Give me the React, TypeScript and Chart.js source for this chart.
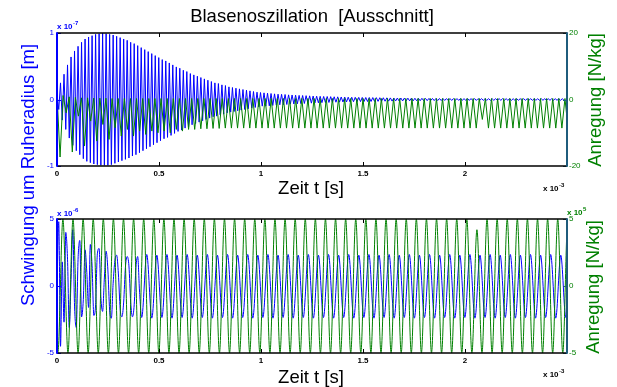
import React, { useEffect, useRef } from "react";
import { Chart, registerables } from "chart.js";

Chart.register(...registerables);

// ---------------- tick data ----------------
const xTickValues = [0, 0.5, 1, 1.5, 2]; // units of 1e-3 s
const topLeftTicks = [-1, 0, 1]; // units of 1e-7 m
const topRightTicks = [-20, 0, 20]; // N/kg
const botLeftTicks = [-5, 0, 5]; // units of 1e-6 m
const botRightTicks = [-5, 0, 5]; // units of 1e5 N/kg

// ---------------- top subplot ----------------
// bubble radius oscillation: successive maxima / minima (units 1e-7 m)
const topBlueStart = 0; // ms
const topBlueStep = 0.0086; // ms between a maximum and the next minimum
const topBluePeaks = [
  0.08, 0.25, 0.38, 0.52, 0.64, 0.73, 0.8, 0.86, 0.91, 0.94,
  0.96, 0.98, 0.99, 1.0, 0.99, 0.98, 0.97, 0.95, 0.93, 0.91,
  0.89, 0.86, 0.84, 0.81, 0.78, 0.75, 0.72, 0.69, 0.66, 0.63,
  0.6, 0.58, 0.55, 0.52, 0.49, 0.47, 0.44, 0.42, 0.39, 0.37,
  0.35, 0.33, 0.31, 0.29, 0.27, 0.25, 0.24, 0.22, 0.21, 0.19,
  0.18, 0.17, 0.16, 0.15, 0.14, 0.13, 0.12, 0.11, 0.105, 0.1,
  0.095, 0.09, 0.085, 0.08, 0.078, 0.075, 0.07, 0.068, 0.065, 0.062,
  0.06, 0.058, 0.055, 0.052, 0.05, 0.048, 0.046, 0.045, 0.043, 0.041,
  0.04, 0.038, 0.037, 0.035, 0.034, 0.033, 0.032, 0.031, 0.03, 0.03,
  0.029, 0.028, 0.027, 0.026, 0.025, 0.024, 0.023, 0.022, 0.022, 0.021,
  0.02, 0.02, 0.019, 0.018, 0.018, 0.017, 0.016, 0.016, 0.015, 0.015,
  0.014, 0.014, 0.014, 0.014, 0.014, 0.014, 0.014, 0.014, 0.014, 0.014,
  0.013, 0.013, 0.013, 0.013, 0.013, 0.013, 0.013, 0.013, 0.013, 0.013,
  0.012, 0.012, 0.012, 0.012, 0.012, 0.012, 0.012, 0.012, 0.012, 0.012,
  0.012, 0.012, 0.012, 0.012, 0.012,
];
const topBlueTroughs = [
  -0.15, -0.31, -0.45, -0.58, -0.69, -0.77, -0.83, -0.89, -0.93, -0.95,
  -0.97, -0.98, -0.99, -0.99, -0.99, -0.98, -0.96, -0.94, -0.92, -0.9,
  -0.88, -0.85, -0.83, -0.8, -0.77, -0.74, -0.71, -0.68, -0.65, -0.62,
  -0.59, -0.57, -0.54, -0.51, -0.48, -0.46, -0.43, -0.41, -0.38, -0.36,
  -0.34, -0.32, -0.3, -0.28, -0.26, -0.25, -0.23, -0.22, -0.2, -0.19,
  -0.18, -0.17, -0.16, -0.15, -0.14, -0.13, -0.12, -0.11, -0.1, -0.1,
  -0.095, -0.09, -0.085, -0.08, -0.078, -0.075, -0.07, -0.068, -0.065, -0.062,
  -0.06, -0.058, -0.055, -0.052, -0.05, -0.048, -0.046, -0.045, -0.043, -0.041,
  -0.04, -0.038, -0.037, -0.035, -0.034, -0.033, -0.032, -0.031, -0.03, -0.03,
  -0.029, -0.028, -0.027, -0.026, -0.025, -0.024, -0.023, -0.022, -0.022, -0.021,
  -0.02, -0.02, -0.019, -0.018, -0.018, -0.017, -0.016, -0.016, -0.015, -0.015,
  -0.014, -0.014, -0.014, -0.014, -0.014, -0.014, -0.014, -0.014, -0.014, -0.014,
  -0.013, -0.013, -0.013, -0.013, -0.013, -0.013, -0.013, -0.013, -0.013, -0.013,
  -0.012, -0.012, -0.012, -0.012, -0.012, -0.012, -0.012, -0.012, -0.012, -0.012,
  -0.012, -0.012, -0.012, -0.012, -0.012,
];

// excitation (N/kg): successive maxima / minima
const topGreenStart = 0;
const topGreenStep = 0.015;
const topGreenPeaks = [
  1.5, 1.2, 0.8, 0.6, 0.5, 0.5, 0.4, 0.4, 0.4, 0.3,
  0.3, 0.3, 0.3, 0.3, 0.3, 0.3, 0.3, 0.3, 0.3, 0.3,
  0.3, 0.3, 0.3, 0.3, 0.3, 0.3, 0.3, 0.3, 0.3, 0.3,
  0.3, 0.3, 0.3, 0.3, 0.3, 0.3, 0.3, 0.3, 0.3, 0.3,
  0.3, 0.3, 0.3, 0.3, 0.3, 0.3, 0.3, 0.3, 0.3, 0.3,
  0.3, 0.3, 0.3, 0.3, 0.3, 0.3, 0.3, 0.3, 0.3, 0.3,
  0.3, 0.3, 0.3, 0.3, 0.3, 0.3, 0.3, 0.3, 0.3, 0.3,
  0.3, 0.3, 0.3, 0.3, 0.3, 0.3, 0.3, 0.3, 0.3, 0.3,
  0.3, 0.3, 0.3, 0.3,
];
const topGreenTroughs = [
  -17.3, -4.0, -15.8, -5.0, -14.0, -6.5, -12.5, -7.5, -12.0, -8.5,
  -11.0, -9.0, -11.0, -9.5, -10.5, -9.5, -10.0, -9.5, -10.0, -9.0,
  -9.5, -9.0, -9.0, -8.8, -8.8, -8.7, -8.7, -8.6, -8.6, -8.6,
  -8.6, -8.6, -8.6, -8.6, -8.6, -8.6, -8.6, -8.6, -8.6, -8.6,
  -8.6, -8.6, -8.6, -8.6, -8.6, -8.6, -8.6, -8.6, -8.6, -8.6,
  -8.6, -8.6, -8.6, -8.6, -8.6, -8.6, -8.6, -8.6, -8.6, -8.6,
  -8.6, -8.6, -8.6, -8.6, -8.6, -8.6, -8.6, -8.6, -8.6, -6.0,
  -8.6, -8.6, -8.6, -8.6, -8.6, -8.6, -8.6, -8.6, -8.6, -8.6,
  -8.6, -8.6, -8.6, -8.6,
];

// ---------------- bottom subplot ----------------
// radius oscillation: initial transient samples (units 1e-6 m)
const botBlueEarlyStep = 0.0086;
const botBlueEarly = [
  0, 4.8, -4.5, 1.8, -2.7, 4.0, 2.0, -3.1, 0.5, 4.2,
  -1.5, -3.1, 2.0, 3.4, -2.3, -1.0, 2.7, 1.0, -1.6, 3.1,
  1.5, -2.2, -1.4, 2.4, 2.8, -0.8, -1.9, 0.6, 2.6, 1.2,
  -1.8, -2.4, 0.2, 1.9, 2.3, 0.9, -1.7, -2.3, -1.2, 1.4,
  2.2, 1.5, -1.2, -2.3, -1.4, 1.4, 2.2, -0.3,
];
// steady state: alternating minima / maxima
const botBlueStart = 0.41525;
const botBlueStep = 0.02475;
const botBlueTroughs = [
  -2.35, -2.4, -2.35, -2.4, -2.35, -2.4, -2.35, -2.4, -2.35, -2.4,
  -2.35, -2.4, -2.35, -2.4, -2.35, -2.4, -2.35, -2.4, -2.35, -2.4,
  -2.35, -2.4, -2.35, -2.4, -2.35, -2.4, -2.35, -2.4, -2.35, -2.4,
  -2.35, -2.4, -2.35, -2.4, -2.35, -2.4, -2.35, -2.4, -2.35, -2.4,
  -2.35, -2.4, -2.35,
];
const botBluePeaks = [
  2.35, 2.3, 2.35, 2.3, 2.35, 2.3, 2.35, 2.3, 2.35, 2.3,
  2.35, 2.3, 2.35, 2.3, 2.35, 2.3, 2.35, 2.3, 2.35, 2.3,
  2.35, 2.3, 2.35, 2.3, 2.35, 2.3, 2.35, 2.3, 2.35, 2.3,
  2.35, 2.3, 2.35, 2.3, 2.35, 2.3, 2.35, 2.3, 2.35, 2.3,
  2.35, 2.3, 2.35,
];
// excitation (units 1e5 N/kg)
const botGreenStart = -0.0205;
const botGreenStep = 0.02475;
const botGreenPeaks = [
  5, 5, 5, 5, 5, 5, 5, 5, 5, 5,
  5, 5, 5, 5, 5, 5, 5, 5, 5, 5,
  5, 5, 5, 5, 5, 5, 5, 5, 5, 5,
  5, 5, 5, 5, 5, 5, 5, 5, 5, 5,
  5, 5, 4.2, 5, 5, 5, 5, 5, 5, 5,
  5, 5,
];
const botGreenTroughs = [
  -5, -5, -5, -5, -5, -5, -5, -5, -5, -5,
  -5, -5, -5, -5, -5, -5, -5, -5, -5, -5,
  -5, -5, -5, -5, -5, -5, -5, -5, -5, -5,
  -5, -5, -5, -5, -5, -5, -5, -5, -5, -5,
  -5, -5, -5, -5, -5, -5, -5, -5, -5, -5,
  -5, -5,
];

// ---------------- helpers ----------------
const FONT = '"Liberation Sans", Arial, Helvetica, sans-serif';
const BLUE = "#0000ff";
const GREEN = "#008000";
const TEAL = "#1f5c7c";
const W = 617;
const H = 387;

type Pt = { x: number; y: number };

function alternate(start: number, step: number, first: number[], second: number[]): Pt[] {
  const pts: Pt[] = [];
  const n = Math.max(first.length, second.length);
  for (let i = 0; i < n; i++) {
    if (i < first.length) pts.push({ x: start + 2 * i * step, y: first[i] });
    if (i < second.length) pts.push({ x: start + (2 * i + 1) * step, y: second[i] });
  }
  return pts;
}

function sampled(start: number, step: number, values: number[]): Pt[] {
  return values.map((v, i) => ({ x: start + i * step, y: v }));
}

function text(
  ctx: CanvasRenderingContext2D,
  s: string,
  x: number,
  y: number,
  font: string,
  color: string,
  align: CanvasTextAlign = "center",
  rotate = 0
) {
  ctx.save();
  ctx.font = font;
  ctx.fillStyle = color;
  ctx.textAlign = align;
  ctx.textBaseline = "middle";
  ctx.translate(x, y);
  if (rotate) ctx.rotate(rotate);
  ctx.fillText(s, 0, 0);
  ctx.restore();
}

function expLabel(ctx: CanvasRenderingContext2D, base: string, exp: string, x: number, y: number, color: string) {
  ctx.save();
  ctx.fillStyle = color;
  ctx.textAlign = "left";
  ctx.textBaseline = "middle";
  ctx.font = `bold 8px ${FONT}`;
  ctx.fillText(base, x, y);
  const w = ctx.measureText(base).width;
  ctx.font = `bold 6px ${FONT}`;
  ctx.fillText(exp, x + w + 0.5, y - 4);
  ctx.restore();
}

function drawFrame(chart: any, yl: number[], yr: number[]) {
  const ctx: CanvasRenderingContext2D = chart.ctx;
  const a = chart.chartArea;
  const xs = chart.scales.x;
  const sl = chart.scales.yL;
  const sr = chart.scales.yR;
  ctx.save();
  // inward tick marks
  ctx.lineWidth = 1;
  ctx.strokeStyle = "#000";
  ctx.beginPath();
  for (const v of xTickValues) {
    const px = Math.round(xs.getPixelForValue(v)) + 0.5;
    if (px <= a.left + 2) continue;
    ctx.moveTo(px, a.top);
    ctx.lineTo(px, a.top + 4);
    ctx.moveTo(px, a.bottom);
    ctx.lineTo(px, a.bottom - 4);
  }
  ctx.stroke();
  ctx.strokeStyle = BLUE;
  ctx.beginPath();
  for (const v of yl) {
    const py = Math.round(sl.getPixelForValue(v)) + 0.5;
    ctx.moveTo(a.left, py);
    ctx.lineTo(a.left + 4, py);
  }
  ctx.stroke();
  ctx.strokeStyle = TEAL;
  ctx.beginPath();
  for (const v of yr) {
    const py = Math.round(sr.getPixelForValue(v)) + 0.5;
    ctx.moveTo(a.right, py);
    ctx.lineTo(a.right - 4, py);
  }
  ctx.stroke();
  // box
  ctx.strokeStyle = "#000";
  ctx.lineWidth = 1.5;
  ctx.beginPath();
  ctx.moveTo(a.left, a.top);
  ctx.lineTo(a.right, a.top);
  ctx.moveTo(a.left, a.bottom);
  ctx.lineTo(a.right, a.bottom);
  ctx.stroke();
  ctx.lineWidth = 2;
  ctx.strokeStyle = BLUE;
  ctx.beginPath();
  ctx.moveTo(a.left, a.top - 0.75);
  ctx.lineTo(a.left, a.bottom + 0.75);
  ctx.stroke();
  ctx.strokeStyle = TEAL;
  ctx.beginPath();
  ctx.moveTo(a.right, a.top - 0.75);
  ctx.lineTo(a.right, a.bottom + 0.75);
  ctx.stroke();
  ctx.restore();
}

function ticksFrom(values: number[]) {
  return (scale: any) => {
    scale.ticks = values.map((v) => ({ value: v }));
  };
}

function buildConfig(p: {
  blue: Pt[];
  green: Pt[];
  yl: number[];
  yr: number[];
  padTop: number;
  padBottom: number;
  smooth: boolean;
  draw: (chart: any) => void;
}): any {
  const lineCommon = {
    pointRadius: 0,
    borderWidth: 1,
    fill: false,
    tension: p.smooth ? 0.4 : 0,
    cubicInterpolationMode: p.smooth ? "monotone" : "default",
    spanGaps: true,
  };
  return {
    type: "line",
    data: {
      datasets: [
        { label: "Anregung", data: p.green, yAxisID: "yR", borderColor: GREEN, ...lineCommon },
        { label: "Schwingung", data: p.blue, yAxisID: "yL", borderColor: BLUE, ...lineCommon },
      ],
    },
    options: {
      animation: false,
      responsive: false,
      maintainAspectRatio: false,
      devicePixelRatio: 1,
      events: [],
      layout: { padding: { top: p.padTop, bottom: p.padBottom, left: 0, right: 0 } },
      plugins: { legend: { display: false }, tooltip: { enabled: false }, title: { display: false } },
      scales: {
        x: {
          type: "linear",
          min: 0,
          max: 2.5,
          afterFit: (s: any) => {
            s.height = 34;
          },
          afterBuildTicks: ticksFrom(xTickValues),
          ticks: {
            color: "#000",
            font: { family: FONT, size: 8, weight: "bold" },
            padding: 3,
            maxRotation: 0,
            autoSkip: false,
            callback: (v: number) => String(v),
          },
          grid: { display: false, drawTicks: false },
          border: { display: false },
        },
        yL: {
          type: "linear",
          position: "left",
          min: p.yl[0],
          max: p.yl[p.yl.length - 1],
          afterFit: (s: any) => {
            s.width = 57;
          },
          afterBuildTicks: ticksFrom(p.yl),
          ticks: {
            color: BLUE,
            font: { family: FONT, size: 8 },
            padding: 3,
            callback: (v: number) => String(v),
          },
          grid: { display: false, drawTicks: false },
          border: { display: false },
        },
        yR: {
          type: "linear",
          position: "right",
          min: p.yr[0],
          max: p.yr[p.yr.length - 1],
          afterFit: (s: any) => {
            s.width = W - 567;
          },
          afterBuildTicks: ticksFrom(p.yr),
          ticks: {
            color: GREEN,
            font: { family: FONT, size: 8 },
            padding: 2,
            callback: (v: number) => String(v),
          },
          grid: { display: false, drawTicks: false },
          border: { display: false },
        },
      },
    },
    plugins: [{ id: "figureDecor", afterDraw: p.draw }],
  };
}

export default function App() {
  const topRef = useRef<HTMLCanvasElement>(null);
  const botRef = useRef<HTMLCanvasElement>(null);

  useEffect(() => {
    const titleFont = `18.5px ${FONT}`;
    const labelFont = `18.5px ${FONT}`;

    const top = new Chart(
      topRef.current!,
      buildConfig({
        blue: alternate(topBlueStart, topBlueStep, topBluePeaks, topBlueTroughs),
        green: alternate(topGreenStart, topGreenStep, topGreenPeaks, topGreenTroughs),
        yl: topLeftTicks,
        yr: topRightTicks,
        padTop: 33,
        padBottom: H - 200,
        smooth: false,
        draw: (chart: any) => {
          const ctx = chart.ctx;
          drawFrame(chart, topLeftTicks, topRightTicks);
          text(ctx, "Blasenoszillation  [Ausschnitt]", 312, 17, titleFont, "#000");
          text(ctx, "Zeit t [s]", 311, 189, labelFont, "#000");
          text(ctx, "Schwingung um Ruheradius [m]", 29, 175, labelFont, BLUE, "center", -Math.PI / 2);
          text(ctx, "Anregung [N/kg]", 596, 100, labelFont, GREEN, "center", -Math.PI / 2);
          expLabel(ctx, "x 10", "-7", 57, 27, BLUE);
          expLabel(ctx, "x 10", "-3", 543, 189, "#000");
        },
      })
    );

    const bot = new Chart(
      botRef.current!,
      buildConfig({
        blue: [
          ...sampled(0, botBlueEarlyStep, botBlueEarly),
          ...alternate(botBlueStart, botBlueStep, botBlueTroughs, botBluePeaks),
        ],
        green: alternate(botGreenStart, botGreenStep, botGreenPeaks, botGreenTroughs),
        yl: botLeftTicks,
        yr: botRightTicks,
        padTop: 219,
        padBottom: 0,
        smooth: true,
        draw: (chart: any) => {
          const ctx = chart.ctx;
          drawFrame(chart, botLeftTicks, botRightTicks);
          text(ctx, "Zeit t [s]", 311, 377.5, labelFont, "#000");
          text(ctx, "Anregung [N/kg]", 594, 287, labelFont, GREEN, "center", -Math.PI / 2);
          expLabel(ctx, "x 10", "-6", 57, 214, BLUE);
          expLabel(ctx, "x 10", "5", 567, 213, GREEN);
          expLabel(ctx, "x 10", "-3", 543, 375, "#000");
        },
      })
    );

    return () => {
      top.destroy();
      bot.destroy();
    };
  }, []);

  const canvasStyle: React.CSSProperties = {
    position: "absolute",
    left: 0,
    top: 0,
    width: W,
    height: H,
  };

  return (
    <div
      style={{
        position: "fixed",
        left: 0,
        top: 0,
        width: W,
        height: H,
        background: "#fff",
        overflow: "hidden",
      }}
    >
      <canvas ref={botRef} width={W} height={H} style={canvasStyle} />
      <canvas ref={topRef} width={W} height={H} style={canvasStyle} />
    </div>
  );
}
